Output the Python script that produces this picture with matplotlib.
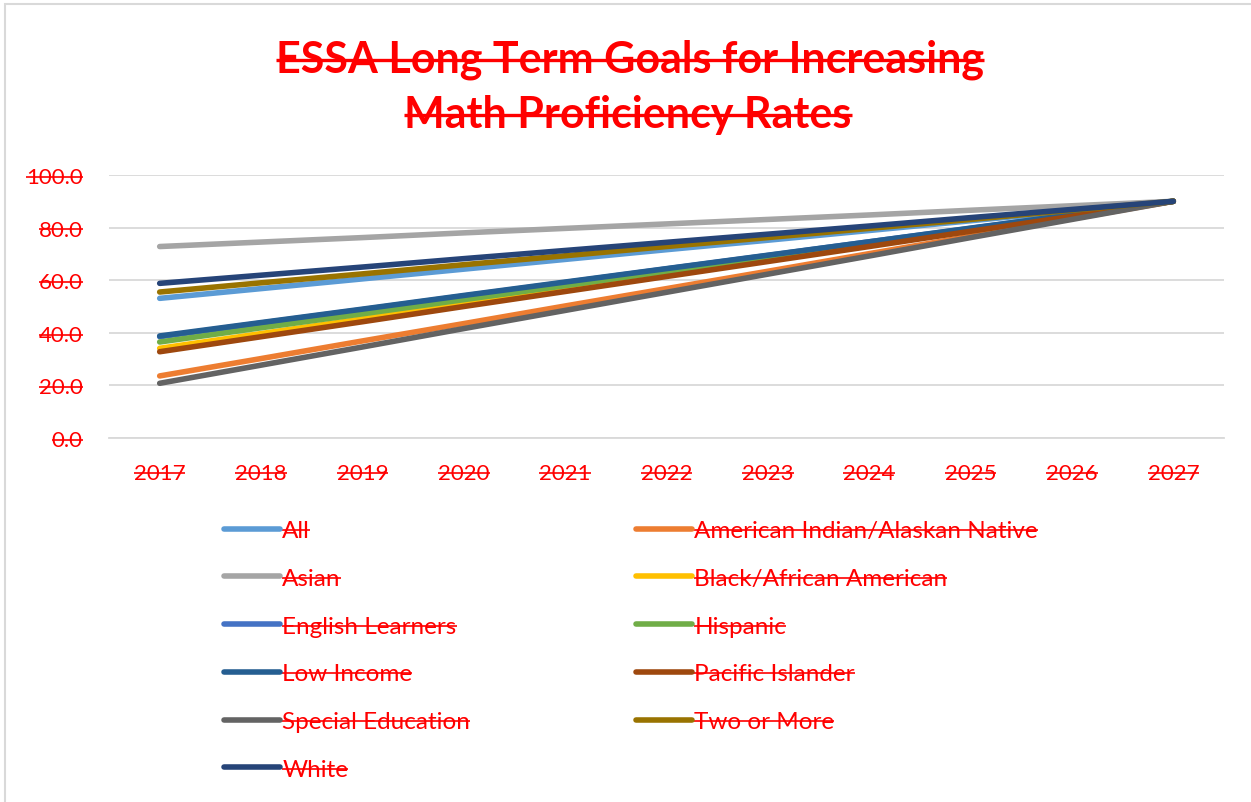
import matplotlib
matplotlib.use("Agg")
import matplotlib.pyplot as plt
from matplotlib.lines import Line2D
from matplotlib.patches import Rectangle

# ---------------- data ----------------
years = ["2017", "2018", "2019", "2020", "2021", "2022", "2023", "2024", "2025", "2026", "2027"]

all_students = [53.1, 56.8, 60.5, 64.2, 67.9, 71.6, 75.2, 78.9, 82.6, 86.3, 90.0]
american_indian = [23.6, 30.2, 36.9, 43.5, 50.2, 56.8, 63.4, 70.1, 76.7, 83.4, 90.0]
asian = [72.8, 74.5, 76.2, 78.0, 79.7, 81.4, 83.1, 84.8, 86.6, 88.3, 90.0]
black = [34.1, 39.7, 45.3, 50.9, 56.5, 62.1, 67.6, 73.2, 78.8, 84.4, 90.0]
english_learners = [38.5, 43.7, 48.8, 54.0, 59.1, 64.3, 69.4, 74.6, 79.7, 84.9, 90.0]
hispanic = [36.5, 41.9, 47.2, 52.6, 57.9, 63.3, 68.6, 73.9, 79.3, 84.7, 90.0]
low_income = [38.8, 43.9, 49.0, 54.2, 59.3, 64.4, 69.5, 74.6, 79.8, 84.9, 90.0]
pacific_islander = [32.8, 38.5, 44.2, 50.0, 55.7, 61.4, 67.1, 72.8, 78.6, 84.3, 90.0]
special_education = [20.8, 27.7, 34.6, 41.6, 48.5, 55.4, 62.3, 69.2, 76.2, 83.1, 90.0]
two_or_more = [55.5, 59.0, 62.4, 65.9, 69.3, 72.8, 76.2, 79.7, 83.1, 86.6, 90.0]
white = [58.8, 61.9, 65.0, 68.2, 71.3, 74.4, 77.5, 80.6, 83.8, 86.9, 90.0]

series_names = ["All", "American Indian/Alaskan Native", "Asian", "Black/African American",
                "English Learners", "Hispanic", "Low Income", "Pacific Islander",
                "Special Education", "Two or More", "White"]
series_values = [all_students, american_indian, asian, black, english_learners, hispanic,
                 low_income, pacific_islander, special_education, two_or_more, white]
series_colors = ["#5B9BD5", "#ED7D31", "#A5A5A5", "#FFC000", "#4472C4", "#70AD47",
                 "#255E91", "#9E480E", "#636363", "#997300", "#264478"]

title_lines = ["ESSA Long Term Goals for Increasing", "Math Proficiency Rates"]
y_ticks = [0, 20, 40, 60, 80, 100]

# ---------------- figure ----------------
W, H = 1251, 803
fig = plt.figure(figsize=(W / 100, H / 100), dpi=100)
plt.rcParams["font.family"] = ["Lato", "DejaVu Sans"]

def fx(px):
    return px / W

def fy(py):  # py measured from top
    return 1 - py / H

# chart border (light gray)
fig.add_artist(Rectangle((fx(5), fy(810)), fx(1260), fy(5) - fy(810), transform=fig.transFigure,
                         fill=False, edgecolor="#D9D9D9", lw=1.5))

ax = fig.add_axes([fx(109), fy(439), fx(1224) - fx(109), fy(176) - fy(439)])
x = list(range(len(years)))
for name, vals, col in zip(series_names, series_values, series_colors):
    ax.plot(x, vals, color=col, lw=4.0, solid_capstyle="round", label=name)

ax.set_xlim(-0.5, len(years) - 0.5)
ax.set_ylim(0, 100)
ax.set_yticks(y_ticks)
ax.set_yticklabels([f"{v:.1f}" for v in y_ticks])
ax.set_xticks(x)
ax.set_xticklabels(years)
ax.yaxis.grid(True, color="#D9D9D9", lw=1.3)
ax.set_axisbelow(True)
for s in ["top", "right", "left"]:
    ax.spines[s].set_visible(False)
ax.spines["bottom"].set_color("#D9D9D9")
ax.spines["bottom"].set_linewidth(1.3)
ax.tick_params(axis="y", length=0, pad=19, labelsize=16, labelcolor="red")
ax.tick_params(axis="x", length=0, pad=18, labelsize=16, labelcolor="red")

# title
t1 = fig.text(fx(630), fy(73), title_lines[0], ha="center", va="baseline",
              fontsize=31, fontweight="bold", color="red")
t2 = fig.text(fx(628), fy(128), title_lines[1], ha="center", va="baseline",
              fontsize=31, fontweight="bold", color="red")

# legends (two columns, row-major order as in reference)
handles, labels = ax.get_legend_handles_labels()
left_idx = [0, 2, 4, 6, 8, 10]
right_idx = [1, 3, 5, 7, 9]
leg_kw = dict(frameon=False, fontsize=17.5, handlelength=2.3, handletextpad=0.1,
              labelspacing=1.1, borderpad=0, borderaxespad=0, loc="upper left",
              bbox_transform=fig.transFigure)
leg1 = fig.legend([handles[i] for i in left_idx], [labels[i] for i in left_idx],
                  bbox_to_anchor=(fx(224), fy(521)), **leg_kw)
leg2 = fig.legend([handles[i] for i in right_idx], [labels[i] for i in right_idx],
                  bbox_to_anchor=(fx(636), fy(521)), **leg_kw)
for leg in (leg1, leg2):
    for t in leg.get_texts():
        t.set_color("red")

# strikethrough on all texts
fig.canvas.draw()
renderer = fig.canvas.get_renderer()

def strike(t, lw, frac):
    if not t.get_text():
        return
    bb = t.get_window_extent(renderer)
    fp = t.get_fontproperties()
    _, _, d1 = renderer.get_text_width_height_descent("lp", fp, ismath=False)
    _, _, d2 = renderer.get_text_width_height_descent(t.get_text(), fp, ismath=False)
    base = bb.y0 + max(d1, d2)
    size_px = fp.get_size_in_points() * fig.dpi / 72
    y = base + frac * size_px
    fig.add_artist(Line2D([bb.x0 / W, bb.x1 / W], [y / H, y / H], transform=fig.transFigure,
                          color="red", lw=lw, solid_capstyle="butt"))

strike(t1, 2.4, 0.27)
strike(t2, 2.4, 0.27)
for t in ax.get_xticklabels() + ax.get_yticklabels():
    strike(t, 1.2, 0.28)
for leg in (leg1, leg2):
    for t in leg.get_texts():
        strike(t, 1.2, 0.28)

fig.savefig("out.png", dpi=100)
